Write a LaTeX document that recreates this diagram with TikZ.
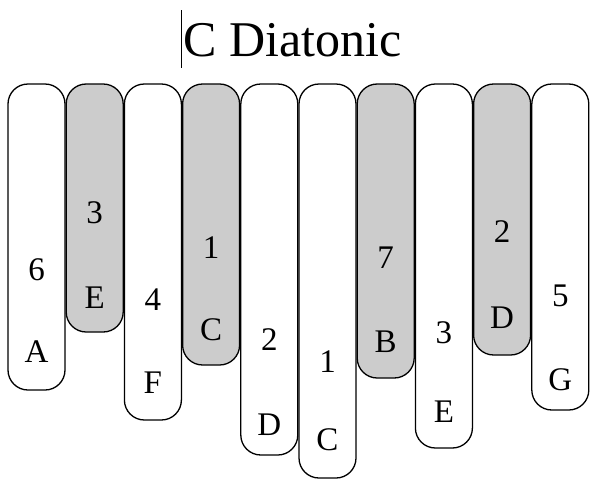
\documentclass[tikz,border=0pt]{standalone}
\usepackage{fontspec}
\setmainfont{Liberation Serif}
\begin{document}
\begin{tikzpicture}[x=1pt,y=-1pt,
 tine/.style={draw=black,line width=1.3pt,rounded corners=20pt},
 lab/.style={font=\fontsize{33}{33}\selectfont,inner sep=0pt}]
\useasboundingbox (0,0) rectangle (600,480);
\node[font=\fontsize{50}{50}\selectfont,inner sep=0pt,anchor=west] (title) at (183,40) {C Diatonic};
\draw[line width=0.6pt] (181,10) -- (181,68);
\foreach \i/\b/\f/\n/\ny/\l/\ly in {
 0/390/white/6/270/A/352,
 1/332/gray!40/3/213/E/298,
 2/420/white/4/300/F/383,
 3/365/gray!40/1/248/C/330,
 4/455/white/2/340/D/425,
 5/478/white/1/362/C/440,
 6/378/gray!40/7/258/B/342,
 7/448/white/3/333/E/412,
 8/355/gray!40/2/232/D/318,
 9/410/white/5/296/G/380}{
 \pgfmathsetmacro\xa{8+58.2*\i}
 \draw[tine,fill=\f] (\xa,84) rectangle ++(57,\b-84);
 \node[lab] (n\i) at (\xa+28.5,\ny) {\n};
 \node[lab] (l\i) at (\xa+28.5,\ly) {\l};
}
\end{tikzpicture}
\end{document}
